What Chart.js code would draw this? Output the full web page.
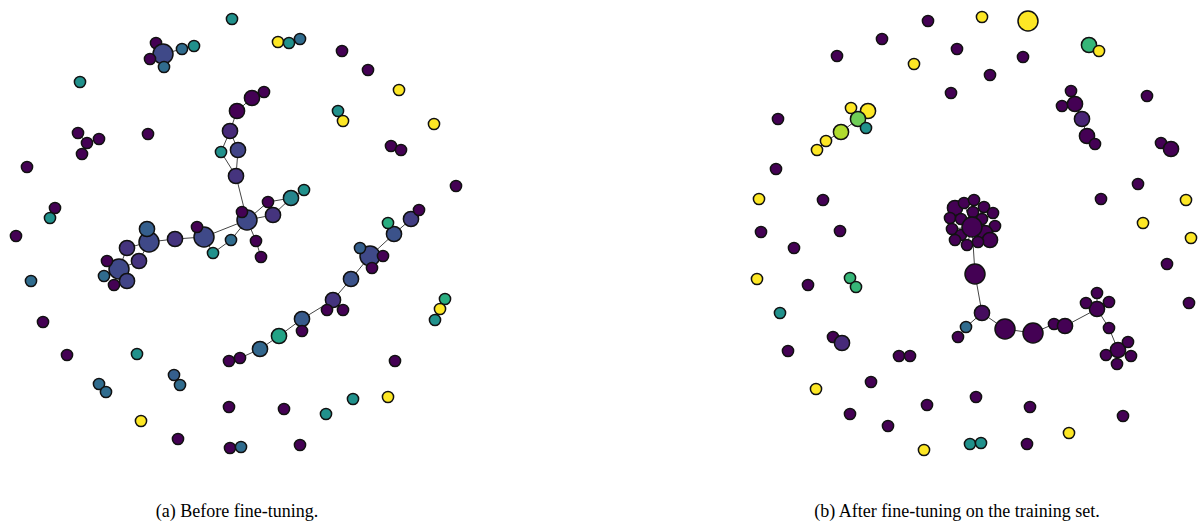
<!DOCTYPE html>
<html>
<head>
<meta charset="utf-8">
<script src="https://cdn.jsdelivr.net/npm/chart.js@4"></script>
<style>
  body { margin: 0; background: #fff; }
  #page { position: relative; width: 1198px; height: 529px; overflow: hidden; }
  canvas { position: absolute; top: 0; }
  .caption { position: absolute; top: 501px; font-family: "Liberation Serif", "Times New Roman", serif; font-size: 18px; color: #000; text-align: center; width: 400px; }
</style>
</head>
<body>
<div id="page">
  <canvas id="before" width="599" height="470" style="left:0"></canvas>
  <canvas id="after" width="599" height="470" style="left:599px"></canvas>
  <div class="caption" style="left:37px">(a) Before fine-tuning.</div>
  <div class="caption" style="left:757px">(b) After fine-tuning on the training set.</div>
</div>
<script>
// node = [x, y, colour value 0..1, size class 1..3]
const beforeNodes = [
  [232,19,0.5,1],[156,43,0,1],[163,54,0.22,3],[150,59,0,1],[164,67,0.35,1],[182,49,0.35,1],[194,46,0.5,1],
  [80,82,0.5,1],[78,133,0,1],[87,143,0,1],[99,139,0,1],[82,154,0,1],[148,134,0,1],[27,167,0,1],
  [55,208,0,1],[50,218,0.5,1],[278,42,1,1],[289,43,0.5,1],[300,39,0.35,1],[342,51,0,1],[368,70,0,1],
  [399,90,1,1],[338,111,0.5,1],[343,121,1,1],[434,124,1,1],[391,146,0,1],[401,150,0,1],[456,186,0,1],
  [264,92,0,1],[252,98,0,2],[237,111,0,2],[230,131,0.12,2],[221,152,0.5,1],[238,150,0.2,2],[236,176,0.15,2],
  [247,220,0.22,3],[242,212,0,1],[268,202,0,1],[291,198,0.45,2],[304,190,0.5,1],[273,215,0.15,2],
  [256,241,0,1],[261,257,0,1],[231,240,0.35,1],[213,253,0.5,1],[204,237,0.22,3],[197,227,0,1],
  [175,239,0.15,2],[149,242,0.22,3],[147,229,0.3,2],[127,248,0.15,2],[139,261,0.15,2],[119,269,0.22,3],
  [107,261,0,1],[104,276,0.35,1],[114,285,0,1],[127,281,0.2,2],[16,236,0,1],[31,281,0.35,1],[43,322,0,1],
  [67,355,0,1],[137,354,0.5,1],[174,375,0.3,1],[180,385,0.35,1],[99,384,0.35,1],[106,392,0.35,1],
  [141,421,1,1],[178,439,0,1],[229,361,0,1],[240,358,0,1],[260,349,0.33,2],[279,336,0.58,2],
  [302,319,0.28,2],[302,331,0,1],[333,300,0.15,2],[327,310,0,1],[343,310,0,1],[351,279,0.25,2],
  [370,256,0.22,3],[360,248,0.3,1],[383,256,0,1],[372,268,0,1],[394,234,0.25,2],[388,223,0.62,1],
  [411,219,0.18,2],[419,210,0,1],[445,299,0.62,1],[440,309,1,1],[435,320,0.5,1],[395,361,0,1],
  [353,399,0.5,1],[388,397,1,1],[326,414,0.5,1],[284,409,0,1],[229,407,0,1],[230,448,0,1],
  [241,447,0.35,1],[300,445,0,1]
];
const beforeEdges = [
  [1,2],[2,3],[2,4],[2,5],[5,6],[28,29],[29,30],[30,31],[31,32],[31,33],[32,34],[33,34],[34,35],
  [35,36],[35,37],[37,38],[38,39],[38,40],[40,35],[35,41],[41,42],[35,43],[43,44],[44,45],[35,45],
  [45,46],[45,47],[47,48],[48,49],[48,50],[48,51],[50,52],[51,52],[52,53],[52,54],[52,55],[52,56],
  [84,85],[84,82],[83,82],[82,78],[78,79],[78,80],[78,81],[78,77],[77,74],[74,75],[74,76],[74,72],
  [72,73],[72,71],[71,70],[70,69],[69,68],[86,87],[87,88],[22,23],[25,26],[8,9],[9,10],[9,11],
  [14,15],[62,63],[64,65],[95,96],[16,17],[17,18]
];

const afterNodes = [
  [928,21,0,1],[982,17,1,1],[1028,21,1,3],[882,39,0,1],[957,49,0,1],[837,56,0,1],[914,64,1,1],
  [951,93,0,1],[1023,57,0,1],[990,75,0,1],[1089,45,0.66,2],[1099,51,1,1],[1071,91,0,1],[1062,106,0,1],
  [1075,104,0,2],[1082,119,0.1,2],[1087,136,0,2],[1095,144,0,1],[1147,96,0,1],[1161,143,0,1],
  [1171,149,0,2],[1138,184,0,1],[1101,199,0,1],[1186,200,1,1],[1143,223,1,1],[1191,238,1,1],
  [1167,264,0,1],[1189,303,0,1],[851,108,1,1],[868,111,1,2],[858,119,0.78,2],[866,128,0.5,1],
  [841,132,0.88,2],[826,141,1,1],[817,150,1,1],[778,119,0,1],[776,169,0,1],[759,199,1,1],
  [823,200,0,1],[761,232,0,1],[840,231,0,1],[794,248,0,1],[757,279,1,1],[808,285,0,1],
  [850,278,0.66,1],[856,287,0.66,1],[780,313,0.5,1],[833,337,0,1],[842,343,0.12,2],[788,351,0,1],
  [899,356,0,1],[910,356,0,1],[816,389,1,1],[871,382,0,1],[927,405,0,1],[850,414,0,1],[888,426,0,1],
  [924,450,1,1],[970,444,0.5,1],[981,443,0.5,1],[1027,444,0,1],[1069,433,1,1],[1030,407,0,1],
  [976,397,0,1],[1123,416,0,1],[975,274,0,3],[982,313,0.03,2],[966,327,0.35,1],[958,337,0,1],
  [1005,329,0,3],[1033,333,0,3],[1054,324,0,1],[1065,326,0,2],[1097,309,0,2],[1086,303,0,1],
  [1097,293,0,1],[1109,302,0,1],[1109,328,0,1],[1118,350,0,2],[1128,342,0,1],[1106,355,0,1],
  [1131,356,0,1],[1117,364,0,1],
  [955,208,0,2],[964,203,0,1],[974,200,0,1],[984,207,0,1],[993,213,0,1],[973,212,0,1],[950,218,0,1],
  [961,219,0,1],[982,219,0,1],[995,226,0,1],[952,229,0,1],[961,235,0,1],[985,233,0,2],[990,240,0,2],
  [955,240,0,1],[967,245,0,1],[978,242,0,1],[972,227,0,3]
];
const afterEdges = [
  [100,83],[100,84],[100,85],[100,86],[100,87],[100,88],[100,89],[100,90],[100,91],[100,92],[100,93],
  [100,94],[100,95],[100,96],[100,97],[100,98],[100,99],[100,65],
  [65,66],[66,67],[67,68],[66,69],[69,70],[70,71],[71,72],[72,73],[73,74],[73,75],[73,76],[73,77],
  [77,78],[78,79],[78,80],[78,81],[78,82],
  [34,33],[33,32],[32,30],[30,28],[30,29],[30,31],
  [13,14],[12,14],[14,15],[15,16],[16,17],[10,11],[19,20],[44,45],[47,48],[50,51],[58,59]
];

// viridis stops
const viridis = ['#440154','#482475','#414487','#355f8d','#2a788e','#21918c','#22a884','#44bf70','#7ad151','#bddf26','#fde725'];
const radius = { 1: 5.6, 2: 7.6, 3: 10 };

function hexToRgb(h) {
  return [parseInt(h.slice(1,3),16), parseInt(h.slice(3,5),16), parseInt(h.slice(5,7),16)];
}
function colourFor(v) {
  let p = v * 10;
  let i = Math.min(9, Math.floor(p));
  let t = p - i;
  let a = hexToRgb(viridis[i]), b = hexToRgb(viridis[i + 1]);
  let c = a.map((x, k) => Math.round(x + (b[k] - x) * t));
  return `rgb(${c[0]},${c[1]},${c[2]})`;
}

function drawGraph(id, nodes, edges, xMin, xMax) {
  let datasets = [{
    type: 'scatter',
    order: 0,
    data: nodes.map(n => ({ x: n[0], y: n[1] })),
    backgroundColor: nodes.map(n => colourFor(n[2])),
    borderColor: '#111',
    borderWidth: 1.5,
    pointRadius: nodes.map(n => radius[n[3]]),
    pointHoverRadius: nodes.map(n => radius[n[3]])
  }];
  edges.forEach(e => {
    datasets.push({
      type: 'line',
      order: 1,
      data: [{ x: nodes[e[0]][0], y: nodes[e[0]][1] }, { x: nodes[e[1]][0], y: nodes[e[1]][1] }],
      borderColor: '#444',
      borderWidth: 1,
      pointRadius: 0,
      fill: false
    });
  });

  new Chart(document.getElementById(id), {
    type: 'scatter',
    data: { datasets: datasets },
    options: {
      responsive: false,
      animation: false,
      clip: false,
      layout: { padding: 0, autoPadding: false },
      plugins: { legend: { display: false }, tooltip: { enabled: false } },
      scales: {
        x: { type: 'linear', display: false, min: xMin, max: xMax },
        y: { type: 'linear', display: false, min: 0, max: 470, reverse: true }
      }
    }
  });
}

drawGraph('before', beforeNodes, beforeEdges, 0, 599);
drawGraph('after', afterNodes, afterEdges, 599, 1198);
</script>
</body>
</html>
